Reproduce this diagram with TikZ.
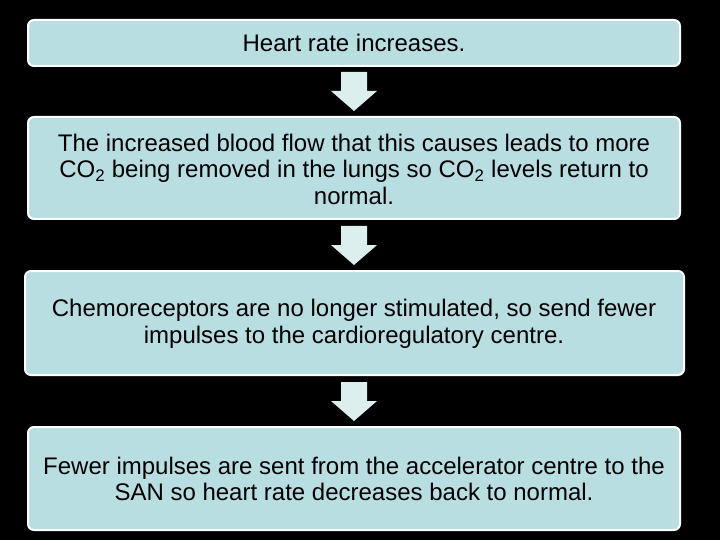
\documentclass[tikz,border=0pt]{standalone}
\usepackage{fontspec}
\setmainfont{Liberation Sans}
\definecolor{boxfill}{HTML}{B9DEE1}
\definecolor{arrowfill}{HTML}{DDEEEF}
\tikzset{
  stepbox/.style={draw=white, line width=2pt, fill=boxfill, rounded corners=6pt},
  steptext/.style={text width=628pt, align=flush center, font=\fontsize{24}{26.5}\selectfont, inner sep=0pt},
  downarrow/.style={fill=arrowfill, draw=none}
}
\begin{document}
\begin{tikzpicture}[x=1pt,y=-1pt]
\fill[black] (0,0) rectangle (720,540);
\useasboundingbox (0,0) rectangle (720,540);
\draw[stepbox] (28,20) rectangle (680,66);
\node[steptext] (b1) at (354,43) {Heart rate increases.};
\draw[stepbox] (28,117) rectangle (680,219);
\node[steptext] (b2) at (354,169) {The increased blood flow that this causes leads to more CO\textsubscript{2} being removed in the lungs so CO\textsubscript{2} levels return to normal.};
\draw[stepbox] (25,271) rectangle (684,375);
\node[steptext] (b3) at (354,324) {Chemoreceptors are no longer stimulated, so send fewer impulses to the cardioregulatory centre.};
\draw[stepbox] (28,427) rectangle (680,530);
\node[steptext] (b4) at (354,479) {Fewer impulses are sent from the accelerator centre to the SAN so heart rate decreases back to normal.};
\foreach \t in {72,226,382}{
  \fill[downarrow] (341,\t) -- (367,\t) -- (367,\t+19) -- (377,\t+19) -- (354,\t+39) -- (331,\t+19) -- (341,\t+19) -- cycle;
}
\end{tikzpicture}
\end{document}
